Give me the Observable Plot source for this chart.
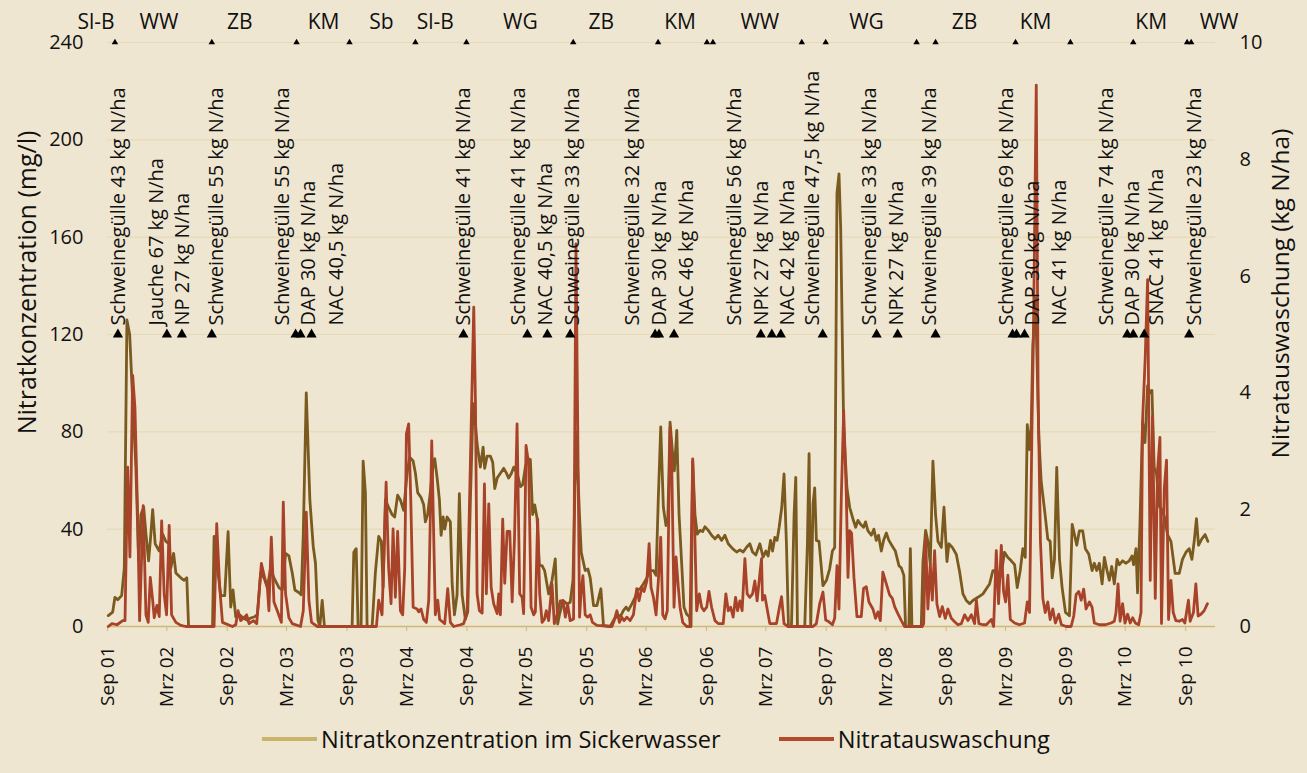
<!DOCTYPE html>
<html><head><meta charset="utf-8">
<script src="https://cdn.jsdelivr.net/npm/d3@7"></script>
<script src="https://cdn.jsdelivr.net/npm/@observablehq/plot@0.6"></script>
<style>
html,body{margin:0;padding:0;background:#efe6d1;}
body{width:1307px;height:773px;overflow:hidden;font-family:"Open Sans",sans-serif;color:#111;}
#legend{display:flex;align-items:center;height:54px;padding-left:262px;font-size:23.6px;}
.sw{display:inline-block;width:55px;height:4px;margin-right:4px;}
.item{display:flex;align-items:center;}
</style></head><body>
<div id="chart"></div>
<div id="legend"></div>
<script>
// ---- data (time in decimal years) ----
const concentration = [ // Nitratkonzentration im Sickerwasser (mg/l)
[2001.672,4.5],[2001.709,5.9],[2001.728,12],[2001.751,11],[2001.784,12.7],[2001.806,24],[2001.828,126],[2001.851,120],[2001.876,93],[2001.903,65],[2001.926,27],[2001.945,46],[2001.968,49],[2001.987,38],[2002.009,27],[2002.028,38],[2002.043,48],[2002.064,34],[2002.098,31],[2002.126,38],[2002.153,35],[2002.181,34],[2002.195,24],[2002.218,30],[2002.237,22],[2002.278,20],[2002.306,19],[2002.328,20],[2002.343,0],[2002.543,0],[2002.556,37],[2002.584,24],[2002.612,12.7],[2002.645,12.7],[2002.673,39],[2002.695,8],[2002.714,15],[2002.737,4],[2002.764,5],[2002.801,3.5],[2002.834,2.5],[2002.862,3.5],[2002.895,4],[2002.918,5],[2002.945,22],[2002.973,20],[2003.001,16],[2003.028,24],[2003.056,20],[2003.098,16],[2003.126,15],[2003.153,30],[2003.181,29],[2003.209,22],[2003.231,15],[2003.264,14],[2003.284,13],[2003.301,38],[2003.326,96],[2003.356,52],[2003.384,33],[2003.403,26],[2003.423,2.7],[2003.439,0],[2003.459,10.7],[2003.478,0],[2003.709,0],[2003.723,30.5],[2003.743,32],[2003.759,0],[2003.784,0],[2003.801,68],[2003.82,55],[2003.834,0],[2003.876,0],[2003.903,22],[2003.931,37],[2003.953,35],[2003.968,16],[2003.987,52],[2004.014,49],[2004.043,46],[2004.064,45],[2004.089,54],[2004.112,52],[2004.139,47.7],[2004.168,63],[2004.189,69.6],[2004.218,68],[2004.237,63],[2004.256,55],[2004.284,53],[2004.306,50],[2004.32,43],[2004.339,46],[2004.362,55.5],[2004.384,66],[2004.398,69],[2004.418,61],[2004.437,52],[2004.451,37.5],[2004.468,45],[2004.481,40],[2004.501,45],[2004.528,43],[2004.543,17.6],[2004.562,4.8],[2004.584,13],[2004.603,54.6],[2004.626,13],[2004.653,3],[2004.673,6],[2004.695,52],[2004.718,91.6],[2004.737,83],[2004.751,75],[2004.778,65.5],[2004.801,73.7],[2004.814,65],[2004.834,70],[2004.862,70],[2004.881,67.5],[2004.898,56.7],[2004.918,61],[2004.945,63],[2004.973,65],[2004.995,63],[2005.014,61],[2005.037,63],[2005.056,65.5],[2005.084,63],[2005.112,57.5],[2005.131,58.3],[2005.153,65.5],[2005.173,69],[2005.195,68.6],[2005.214,46],[2005.231,50],[2005.251,44.6],[2005.27,25],[2005.293,25],[2005.314,23],[2005.348,13.4],[2005.376,19],[2005.403,27.8],[2005.423,1],[2005.439,5],[2005.468,10.7],[2005.501,9.3],[2005.528,10],[2005.551,19],[2005.578,80],[2005.606,45],[2005.62,30.5],[2005.653,23],[2005.676,23.6],[2005.695,20],[2005.723,8.6],[2005.751,8.6],[2005.784,15.5],[2005.806,0.4],[2005.862,0],[2005.895,3],[2005.923,4.5],[2005.951,4.5],[2005.973,6.6],[2005.995,8],[2006.014,6.6],[2006.043,9.3],[2006.07,12],[2006.089,15],[2006.112,15.5],[2006.139,17.5],[2006.168,20],[2006.195,23],[2006.223,23],[2006.245,21],[2006.264,53],[2006.284,82],[2006.306,49],[2006.328,41.5],[2006.343,43.5],[2006.362,84],[2006.381,72.3],[2006.398,64],[2006.418,80.6],[2006.437,46],[2006.459,25.8],[2006.478,8],[2006.501,5],[2006.523,4],[2006.537,0],[2006.551,68],[2006.57,46],[2006.589,38],[2006.612,39.5],[2006.634,39],[2006.653,41],[2006.681,39.5],[2006.709,37.5],[2006.737,36],[2006.764,37.5],[2006.793,35.4],[2006.82,37.5],[2006.848,34],[2006.884,32],[2006.918,30.6],[2006.945,31.5],[2006.973,30.6],[2007.001,32.6],[2007.028,34],[2007.051,30.6],[2007.078,29.4],[2007.112,34],[2007.139,28.5],[2007.162,31],[2007.181,29],[2007.201,35.4],[2007.218,31],[2007.237,36.6],[2007.256,35.4],[2007.273,40.8],[2007.295,49],[2007.314,62.7],[2007.334,34],[2007.351,0],[2007.376,0],[2007.398,46],[2007.412,61.3],[2007.426,0],[2007.487,0],[2007.509,34],[2007.523,71],[2007.537,0],[2007.556,50.4],[2007.57,57],[2007.584,35.4],[2007.606,35],[2007.639,16.8],[2007.668,19],[2007.695,23.7],[2007.718,31],[2007.737,32.5],[2007.756,178],[2007.773,186],[2007.787,164],[2007.812,82],[2007.839,57],[2007.862,49],[2007.889,44.3],[2007.912,40.8],[2007.931,43.6],[2007.953,42],[2007.978,40.8],[2007.995,43],[2008.014,39.4],[2008.043,37.5],[2008.064,40],[2008.084,35.4],[2008.103,37.5],[2008.126,31],[2008.145,35.4],[2008.168,38.4],[2008.189,35.4],[2008.218,33],[2008.243,31],[2008.273,25],[2008.293,24],[2008.314,21],[2008.328,0],[2008.356,0],[2008.368,32],[2008.381,0],[2008.459,0],[2008.473,26.7],[2008.495,39.5],[2008.514,35],[2008.534,25.6],[2008.556,68],[2008.578,46],[2008.598,35],[2008.626,32.5],[2008.648,49],[2008.673,26.7],[2008.689,34],[2008.718,32.5],[2008.751,29.6],[2008.778,22.6],[2008.806,13.4],[2008.834,10.7],[2008.862,9.4],[2008.889,10.7],[2008.931,12],[2008.973,13.4],[2009.001,15.5],[2009.028,17.5],[2009.056,23],[2009.078,23],[2009.098,17.5],[2009.126,21.8],[2009.153,30.5],[2009.181,28.4],[2009.209,27],[2009.237,25.4],[2009.259,16],[2009.284,23],[2009.306,32],[2009.326,28.4],[2009.343,83],[2009.362,72.7],[2009.376,83],[2009.389,115],[2009.412,135],[2009.439,78.5],[2009.459,59.6],[2009.487,48],[2009.514,36],[2009.534,35],[2009.551,20],[2009.57,27.6],[2009.589,65.4],[2009.612,27.6],[2009.634,16],[2009.662,5.8],[2009.695,4.4],[2009.718,42],[2009.737,37.8],[2009.756,33.4],[2009.778,39.3],[2009.806,39.3],[2009.828,32],[2009.856,29.8],[2009.884,23],[2009.903,26],[2009.923,23],[2009.945,26],[2009.968,17.5],[2009.987,28.4],[2010.009,23],[2010.028,19],[2010.048,24.7],[2010.07,17.5],[2010.093,27.6],[2010.112,25.4],[2010.139,27],[2010.168,26],[2010.195,27],[2010.218,29],[2010.231,25.4],[2010.251,32],[2010.264,13.8],[2010.284,42],[2010.306,84],[2010.326,75.6],[2010.348,99],[2010.368,96],[2010.384,97],[2010.403,65.4],[2010.423,62.5],[2010.445,49.4],[2010.468,48],[2010.489,45],[2010.514,37.8],[2010.543,35],[2010.578,21.8],[2010.612,21.8],[2010.639,27.6],[2010.668,30.5],[2010.695,32],[2010.718,27.6],[2010.737,35],[2010.756,44.3],[2010.773,33.4],[2010.801,36],[2010.828,37.8],[2010.851,35]
];
const leaching = [ // Nitratauswaschung (kg N/ha)
[2001.672,0],[2001.703,0.05],[2001.745,0.03],[2001.793,0.1],[2001.812,0.1],[2001.834,2.73],[2001.853,1.19],[2001.876,4.3],[2001.895,3.75],[2001.918,1.87],[2001.934,0.1],[2001.964,2.07],[2001.987,0.2],[2002.006,0.07],[2002.023,0.84],[2002.043,0.45],[2002.056,0.15],[2002.078,0.36],[2002.098,0.17],[2002.118,1.81],[2002.139,0.56],[2002.159,0.2],[2002.181,1.73],[2002.201,0.2],[2002.237,0.07],[2002.278,0.02],[2002.32,0],[2002.556,0],[2002.578,1.76],[2002.603,0.67],[2002.626,0.07],[2002.709,0],[2002.737,0.03],[2002.756,0.27],[2002.778,0.1],[2002.806,0.15],[2002.828,0.2],[2002.848,0.05],[2002.884,0.1],[2002.912,0.05],[2002.951,1.08],[2002.978,0.84],[2003.001,0.67],[2003.014,0.27],[2003.034,1.53],[2003.056,0.42],[2003.084,0.27],[2003.118,0.07],[2003.134,2.13],[2003.153,0.56],[2003.181,0.15],[2003.209,0.05],[2003.278,0],[2003.301,0.27],[2003.326,1.96],[2003.348,0.45],[2003.37,0.07],[2003.418,0],[2003.912,0],[2003.931,0.45],[2003.959,0.2],[2003.993,2.47],[2004.014,1.0],[2004.034,0.39],[2004.051,1.67],[2004.07,0.5],[2004.089,1.63],[2004.112,0.27],[2004.131,0.2],[2004.148,1.0],[2004.162,3.3],[2004.181,3.47],[2004.198,2.2],[2004.218,0.33],[2004.251,0.3],[2004.264,0.25],[2004.284,0.3],[2004.306,0.12],[2004.328,0.07],[2004.348,0.45],[2004.373,3.18],[2004.403,0.2],[2004.423,0.45],[2004.439,0.12],[2004.481,0.05],[2004.506,0.65],[2004.528,0.07],[2004.556,0],[2004.612,0.03],[2004.639,0.05],[2004.668,0.25],[2004.723,5.47],[2004.737,3.87],[2004.751,0.56],[2004.77,0.27],[2004.793,0.23],[2004.812,2.44],[2004.828,0.56],[2004.848,2.1],[2004.868,0.67],[2004.889,0.39],[2004.918,0.22],[2004.931,0.56],[2004.945,0.2],[2004.964,1.84],[2004.981,0.74],[2005.001,1.63],[2005.023,1.63],[2005.043,0.42],[2005.062,1.47],[2005.084,3.47],[2005.106,0.56],[2005.126,0.5],[2005.139,0.22],[2005.159,3.1],[2005.181,2.78],[2005.201,0.33],[2005.223,0.2],[2005.237,0.25],[2005.256,1.84],[2005.273,0.56],[2005.293,0.07],[2005.312,0.12],[2005.328,0.27],[2005.348,0.1],[2005.376,0.73],[2005.395,0.05],[2005.418,0.2],[2005.445,0.44],[2005.468,0.44],[2005.487,0.16],[2005.506,0.38],[2005.528,0.1],[2005.556,0.13],[2005.576,6.55],[2005.606,0.16],[2005.618,0.56],[2005.634,0.87],[2005.653,0.2],[2005.673,0.16],[2005.695,0.2],[2005.714,0.07],[2005.751,0.02],[2005.876,0],[2005.895,0.1],[2005.918,0.27],[2005.939,0.07],[2005.959,0.16],[2005.978,0.1],[2006.001,0.16],[2006.028,0.1],[2006.056,0.2],[2006.084,0.65],[2006.103,0.44],[2006.126,0.67],[2006.145,0.6],[2006.168,0.78],[2006.187,1.42],[2006.203,0.67],[2006.223,0.5],[2006.245,0.2],[2006.264,0.78],[2006.284,1.53],[2006.301,0.2],[2006.32,0.13],[2006.339,0.27],[2006.362,3.41],[2006.376,2.78],[2006.395,0.33],[2006.412,1.19],[2006.431,0.67],[2006.445,0.33],[2006.468,0.07],[2006.501,0],[2006.528,0],[2006.551,2.87],[2006.57,1.47],[2006.584,0.27],[2006.606,0.56],[2006.626,0.33],[2006.645,0.27],[2006.668,0.33],[2006.687,0.6],[2006.709,0.33],[2006.737,0.1],[2006.764,0.05],[2006.806,0.05],[2006.828,0.56],[2006.848,0.27],[2006.868,0.33],[2006.889,0.16],[2006.909,0.5],[2006.926,0.27],[2006.945,0.44],[2006.964,0.27],[2006.987,1.16],[2007.006,0.56],[2007.028,0.5],[2007.051,0.56],[2007.07,0.78],[2007.089,0.44],[2007.112,0.9],[2007.126,1.16],[2007.134,0.45],[2007.153,0.53],[2007.173,0.3],[2007.195,0.05],[2007.251,0.05],[2007.273,0.3],[2007.293,0.51],[2007.314,0.05],[2007.345,0],[2007.556,0],[2007.584,0.05],[2007.612,0.39],[2007.639,0.59],[2007.662,0.11],[2007.689,0.08],[2007.718,0.03],[2007.737,0.14],[2007.756,1.04],[2007.773,0.3],[2007.793,2.27],[2007.812,3.7],[2007.834,2.27],[2007.848,0.84],[2007.862,1.64],[2007.878,1.6],[2007.898,0.84],[2007.923,0.17],[2007.959,0.17],[2007.978,0.65],[2008.001,0.68],[2008.023,0.42],[2008.056,0.3],[2008.078,0.14],[2008.098,0.25],[2008.118,0.1],[2008.139,0.93],[2008.168,0.73],[2008.195,0.54],[2008.218,0.48],[2008.237,0.34],[2008.264,0.22],[2008.293,0.1],[2008.32,0],[2008.468,0],[2008.479,0.05],[2008.495,1.53],[2008.514,0.3],[2008.534,1.07],[2008.551,0.45],[2008.57,1.3],[2008.589,0.39],[2008.612,0.17],[2008.634,0.34],[2008.659,0.14],[2008.681,0.3],[2008.709,0.14],[2008.737,0.08],[2008.764,0.03],[2008.793,0.05],[2008.82,0.2],[2008.848,0.1],[2008.876,0.2],[2008.903,0.05],[2008.918,0.45],[2008.939,0.05],[2008.973,0.03],[2009.001,0.03],[2009.043,0.12],[2009.062,0],[2009.084,1.3],[2009.103,0.39],[2009.126,1.39],[2009.145,0.6],[2009.162,0.42],[2009.181,0.88],[2009.201,0.12],[2009.237,0.06],[2009.278,0.03],[2009.32,0.06],[2009.343,0.42],[2009.362,0.24],[2009.381,3.27],[2009.395,5.09],[2009.418,9.27],[2009.434,3.88],[2009.453,1.45],[2009.473,0.48],[2009.493,0.24],[2009.514,0.42],[2009.534,0.12],[2009.556,0.3],[2009.578,0.06],[2009.606,0.21],[2009.628,0.03],[2009.668,0],[2009.709,0],[2009.731,0.18],[2009.751,0.55],[2009.773,0.6],[2009.793,0.45],[2009.814,0.64],[2009.834,0.3],[2009.862,0.42],[2009.884,0.33],[2009.903,0.06],[2009.945,0.03],[2009.995,0.03],[2010.043,0.06],[2010.07,0.09],[2010.084,0.24],[2010.101,0.73],[2010.118,0.09],[2010.139,0.39],[2010.159,0.06],[2010.181,0.21],[2010.203,0.06],[2010.223,0.15],[2010.245,0.06],[2010.273,0.03],[2010.293,0.24],[2010.306,3.53],[2010.328,4.6],[2010.348,5.94],[2010.37,0.79],[2010.389,3.6],[2010.412,0.48],[2010.431,2.67],[2010.451,3.24],[2010.464,0.05],[2010.487,2.36],[2010.506,2.85],[2010.523,0.12],[2010.543,0.79],[2010.562,0.24],[2010.584,0.1],[2010.612,0.09],[2010.639,0.12],[2010.659,0.06],[2010.689,0.45],[2010.703,0.09],[2010.731,0.24],[2010.751,0.73],[2010.77,0.18],[2010.793,0.21],[2010.82,0.27],[2010.848,0.39]
];
const cropNames = ["Sl-B","WW","ZB","KM","Sb","Sl-B","WG","ZB","KM","WW","WG","ZB","KM","KM","WW"];
const cropLabelAt = [2001.57,2002.095,2002.77,2003.47,2003.953,2004.403,2005.112,2005.787,2006.445,2007.112,2008.003,2008.82,2009.412,2010.378,2010.945];
const cropChangeAt = [2001.728,2002.537,2003.245,2003.687,2004.237,2004.662,2005.553,2006.262,2006.67,2006.72,2007.462,2007.662,2008.42,2008.578,2009.245,2009.703,2010.228,2010.678,2010.712];
const fertAt = [2001.753,2002.162,2002.287,2002.537,2003.237,2003.278,2003.37,2004.637,2005.17,2005.337,2005.528,2006.237,2006.27,2006.395,2007.12,2007.212,2007.287,2007.637,2008.087,2008.262,2008.578,2009.22,2009.253,2009.32,2010.178,2010.228,2010.32,2010.695];
const fertLabels = ["Schweinegülle 43 kg N/ha","Jauche 67 kg N/ha","NP 27 kg N/ha","Schweinegülle 55 kg N/ha","Schweinegülle 55 kg N/ha","DAP 30 kg N/ha","NAC 40,5 kg N/ha","Schweinegülle 41 kg N/ha","Schweinegülle 41 kg N/ha","NAC 40,5 kg N/ha","Schweinegülle 33 kg N/ha","Schweinegülle 32 kg N/ha","DAP 30 kg N/ha","NAC 46 kg N/ha","Schweinegülle 56 kg N/ha","NPK 27 kg N/ha","NAC 42 kg N/ha","Schweinegülle 47,5 kg N/ha","Schweinegülle 33 kg N/ha","NPK 27 kg N/ha","Schweinegülle 39 kg N/ha","Schweinegülle 69 kg N/ha","DAP 30 kg N/ha","NAC 41 kg N/ha","Schweinegülle 74 kg N/ha","DAP 30 kg N/ha","SNAC 41 kg N/ha","Schweinegülle 23 kg N/ha"];
const fertLabelAt = [2001.762,2002.078,2002.295,2002.578,2003.128,2003.345,2003.578,2004.637,2005.095,2005.32,2005.545,2006.053,2006.278,2006.503,2006.903,2007.128,2007.345,2007.553,2008.028,2008.253,2008.528,2009.17,2009.387,2009.612,2010.003,2010.22,2010.42,2010.737];
const tickDates = ["2001-09-01","2002-03-01","2002-09-01","2003-03-01","2003-09-01","2004-03-01","2004-09-01","2005-03-01","2005-09-01","2006-03-01","2006-09-01","2007-03-01","2007-09-01","2008-03-01","2008-09-01","2009-03-01","2009-09-01","2010-03-01","2010-09-01"];
const tickLabels = ["Sep 01","Mrz 02","Sep 02","Mrz 03","Sep 03","Mrz 04","Sep 04","Mrz 05","Sep 05","Mrz 06","Sep 06","Mrz 07","Sep 07","Mrz 08","Sep 08","Mrz 09","Sep 09","Mrz 10","Sep 10"];
const leftTicks = [0,40,80,120,160,200,240];
const rightTicks = [0,2,4,6,8,10];
const xDomain = ["2001-09-01","2010-12-01"];
const seriesNames = ["Nitratkonzentration im Sickerwasser","Nitratauswaschung"];

// ---- helpers ----
const toDate = t => { const y = Math.floor(t); const a = Date.UTC(y,0,1), b = Date.UTC(y+1,0,1); return new Date(a + (t-y)*(b-a)); };
const k = 240 / 10; // right axis (0–10) onto left axis (0–240)
const conc = concentration.map(([t,v]) => ({date: toDate(t), v}));
const leach = leaching.map(([t,v]) => ({date: toDate(t), v}));
const crops = cropNames.map((n,i) => ({date: toDate(cropLabelAt[i]), n}));
const changes = cropChangeAt.map(t => ({date: toDate(t)}));
const ferts = fertAt.map(t => ({date: toDate(t)}));
const fertText = fertLabels.map((s,i) => ({date: toDate(fertLabelAt[i]), s}));
const ticks = tickDates.map(d => new Date(d));
const tickMap = new Map(ticks.map((d,i) => [+d, tickLabels[i]]));

const OLIVE = "#7a5a1f", RED = "#a8432a", GRID = "#e5dab6", AXIS = "#cfb974";

const chart = Plot.plot({
  width: 1307, height: 712,
  marginLeft: 107, marginRight: 92, marginTop: 42, marginBottom: 86,
  style: {background: "transparent", fontFamily: "'Open Sans', sans-serif", color: "#111", overflow: "visible"},
  x: {type: "utc", domain: xDomain.map(d => new Date(d))},
  y: {domain: [0, 240]},
  marks: [
    Plot.ruleY(leftTicks.filter(d => d > 0), {stroke: GRID, strokeWidth: 1.2}),
    Plot.ruleY([0], {stroke: AXIS, strokeWidth: 1.6}),
    Plot.axisX({ticks, tickFormat: d => tickMap.get(+d), tickRotate: -90, tickSize: 5, tickPadding: 15, stroke: AXIS, fill: "#111", fontSize: 19, label: null}),
    Plot.axisY({anchor: "left", ticks: leftTicks, tickSize: 0, tickPadding: 24, fontSize: 20, fill: "#111", label: null}),
    Plot.axisY({anchor: "right", ticks: rightTicks.map(d => d * k), tickFormat: d => d / k, tickSize: 0, tickPadding: 24, fontSize: 20, fill: "#111", label: null}),
    Plot.text(["Nitratkonzentration (mg/l)"], {frameAnchor: "left", textAnchor: "middle", rotate: -90, dx: -80, dy: -52, fontSize: 25, fill: "#111"}),
    Plot.text(["Nitratauswaschung (kg N/ha)"], {frameAnchor: "right", textAnchor: "middle", rotate: -90, dx: 66, dy: -41, fontSize: 24.5, fill: "#111"}),
    Plot.line(conc, {x: "date", y: "v", stroke: OLIVE, strokeWidth: 2.8, strokeLinejoin: "round"}),
    Plot.line(leach, {x: "date", y: d => d.v * k, stroke: RED, strokeWidth: 2.8, strokeLinejoin: "round"}),
    Plot.dot(changes, {x: "date", y: () => 240, symbol: "triangle", r: 2.4, fill: "#000", stroke: "none"}),
    Plot.text(crops, {x: "date", y: () => 240, text: "n", dy: -20, fontSize: 21, fill: "#111"}),
    Plot.dot(ferts, {x: "date", y: () => 120, symbol: "triangle", r: 3.8, fill: "#000", stroke: "none"}),
    Plot.text(fertText, {x: "date", y: () => 120, text: "s", rotate: -90, textAnchor: "start", dy: -9, fontSize: 20, fill: "#111"})
  ]
});
document.getElementById("chart").appendChild(chart);

const legend = document.getElementById("legend");
const swatch = ["#c9b46b", "#b34a2c"];
seriesNames.forEach((n, i) => {
  const it = document.createElement("div");
  it.className = "item";
  if (i > 0) it.style.marginLeft = "58px";
  it.innerHTML = `<span class="sw" style="background:${swatch[i]}"></span><span>${n}</span>`;
  legend.appendChild(it);
});
</script>
</body></html>
